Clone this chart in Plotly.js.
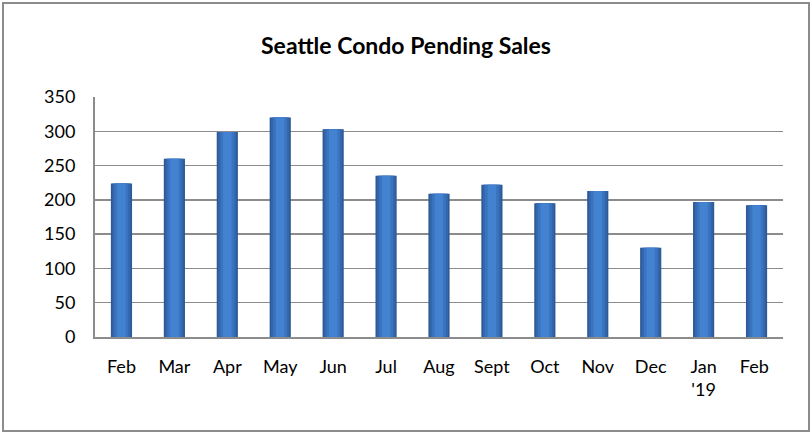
<!DOCTYPE html>
<html>
<head>
<meta charset="utf-8">
<script src="https://cdn.plot.ly/plotly-3.0.1.min.js"></script>
<style>
  html, body { margin: 0; padding: 0; background: #fff; }
  #wrap { position: relative; width: 812px; height: 434px; }
  #chart { width: 812px; height: 434px; }
  #frame { position: absolute; left: 2px; top: 2px; width: 804px; height: 426px;
           border: 2px solid #8c8c8c; pointer-events: none; }
</style>
</head>
<body>
<div id="wrap">
  <div id="chart"></div>
  <div id="frame"></div>
</div>
<script>
const months = ["Feb", "Mar", "Apr", "May", "Jun", "Jul", "Aug", "Sept", "Oct", "Nov", "Dec", "Jan<br>'19", "Feb "];
const pendingSales = [224, 260, 299, 320, 303, 235, 209, 222, 195, 213, 130, 197, 192];
const yTicks = [0, 50, 100, 150, 200, 250, 300, 350];

const layers = [
  { width: 0.40, color: "#2c5a96" },
  { width: 0.34, color: "#3466ac" },
  { width: 0.26, color: "#3a73bf" },
  { width: 0.16, color: "#4282d0" }
];

const traces = layers.map(l => ({
  type: "bar",
  x: months,
  y: pendingSales,
  width: l.width,
  marker: { color: l.color, line: { width: 0 } },
  hoverinfo: "skip",
  showlegend: false
}));

const layout = {
  width: 812,
  height: 434,
  margin: { l: 95, r: 29, t: 97, b: 97 },
  paper_bgcolor: "#ffffff",
  plot_bgcolor: "#ffffff",
  barmode: "overlay",
  showlegend: false,
  title: {
    text: "<b>Seattle Condo Pending Sales</b>",
    font: { family: "Lato, 'Open Sans', sans-serif", size: 23, color: "#000" },
    x: 0.5, xanchor: "center", y: 0.895, yanchor: "middle"
  },
  xaxis: {
    type: "category",
    showgrid: false,
    showline: true,
    linecolor: "#8c8c8c",
    linewidth: 2,
    ticks: "outside",
    ticklen: 12,
    tickcolor: "rgba(0,0,0,0)",
    tickfont: { family: "Lato, 'Open Sans', sans-serif", size: 18, color: "#000" },
    fixedrange: true
  },
  yaxis: {
    range: [0, 350],
    tickvals: yTicks,
    ticktext: yTicks.map(String),
    showgrid: true,
    gridcolor: "#8c8c8c",
    gridwidth: 1.5,
    showline: true,
    linecolor: "#8c8c8c",
    linewidth: 2,
    zeroline: false,
    ticks: "outside",
    ticklen: 14,
    tickcolor: "rgba(0,0,0,0)",
    tickfont: { family: "Lato, 'Open Sans', sans-serif", size: 18, color: "#000" },
    fixedrange: true
  }
};

Plotly.newPlot("chart", traces, layout, { displayModeBar: false, staticPlot: true });
</script>
</body>
</html>
